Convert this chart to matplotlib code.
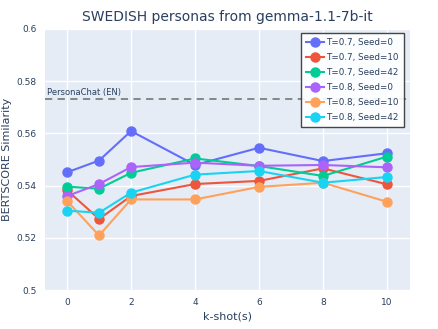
import matplotlib
matplotlib.use("Agg")
import matplotlib.pyplot as plt

k_shots = [0, 1, 2, 4, 6, 8, 10]
series_labels = ["T=0.7, Seed=0", "T=0.7, Seed=10", "T=0.7, Seed=42",
                 "T=0.8, Seed=0", "T=0.8, Seed=10", "T=0.8, Seed=42"]
t07_s0 = [0.5451, 0.5496, 0.5609, 0.5479, 0.5545, 0.5494, 0.5524]
t07_s10 = [0.5382, 0.5272, 0.5360, 0.5406, 0.5418, 0.5466, 0.5405]
t07_s42 = [0.5396, 0.5388, 0.5449, 0.5504, 0.5475, 0.5437, 0.5511]
t08_s0 = [0.5360, 0.5406, 0.5471, 0.5488, 0.5476, 0.5479, 0.5470]
t08_s10 = [0.5341, 0.5209, 0.5347, 0.5347, 0.5395, 0.5411, 0.5338]
t08_s42 = [0.5304, 0.5296, 0.5373, 0.5442, 0.5456, 0.5411, 0.5433]
baseline_value = 0.5732
baseline_label = "PersonaChat (EN)"
y_ticks = [0.5, 0.52, 0.54, 0.56, 0.58, 0.6]
x_ticks = [0, 2, 4, 6, 8, 10]

colors = ["#636EFA", "#EF553B", "#00CC96", "#AB63FA", "#FFA15A", "#19D3F3"]
text_color = "#2a3f5f"

fig = plt.figure(figsize=(4.39, 3.29), dpi=100)
ax = fig.add_axes([45/439, 39/329, 365/439, 261/329])
ax.set_facecolor("#E5ECF6")
for sp in ax.spines.values():
    sp.set_visible(False)
ax.grid(True, color="white", linewidth=1)
ax.set_axisbelow(True)

all_series = [t07_s0, t07_s10, t07_s42, t08_s0, t08_s10, t08_s42]
for vals, lab, c in zip(all_series, series_labels, colors):
    ax.plot(k_shots, vals, color=c, linewidth=1.5, marker="o", markersize=6.5,
            label=lab, zorder=3)

ax.axhline(baseline_value, color="#7f7f7f", linestyle=(0, (4, 3)), linewidth=1.3, zorder=2)
ax.text(-0.62, baseline_value + 0.0007, baseline_label, fontsize=6, color=text_color,
        va="bottom", ha="left")

ax.set_xlim(-0.69, 10.72)
ax.set_ylim(0.5, 0.6)
ax.set_xticks(x_ticks)
ax.set_yticks(y_ticks)
ax.set_yticklabels(["0.5", "0.52", "0.54", "0.56", "0.58", "0.6"])
ax.tick_params(length=0, labelsize=6.5, labelcolor=text_color, pad=6)
ax.set_xlabel("k-shot(s)", fontsize=8, color=text_color, labelpad=3)
ax.set_ylabel("BERTSCORE Similarity", fontsize=8, color=text_color, labelpad=3)
ax.set_title("SWEDISH personas from gemma-1.1-7b-it", fontsize=10, color=text_color, pad=6)

leg = ax.legend(loc="upper right", bbox_to_anchor=(0.9836, 0.985), borderaxespad=0,
                fontsize=6.3, frameon=True, fancybox=False, borderpad=0.6,
                labelspacing=0.68, handlelength=2.0, handletextpad=0.3, markerscale=1.0)
leg.get_frame().set_edgecolor("#333333")
leg.get_frame().set_linewidth(1)
leg.get_frame().set_facecolor("white")
leg.get_frame().set_alpha(0.9)
for t in leg.get_texts():
    t.set_color(text_color)

fig.savefig("out.png", dpi=100)
